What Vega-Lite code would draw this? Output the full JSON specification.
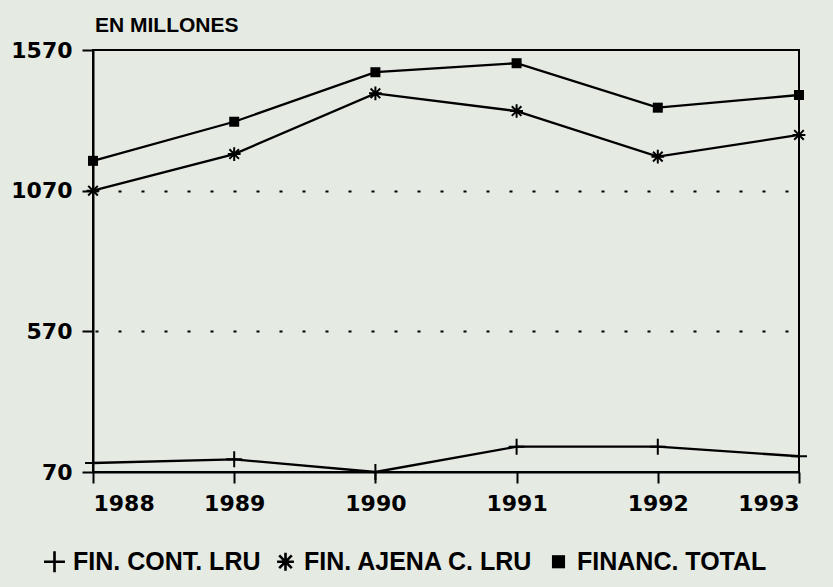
{
  "$schema": "https://vega.github.io/schema/vega-lite/v6.json",
  "width": 706,
  "height": 422,
  "autosize": {"type": "none"},
  "padding": {"left": 93, "top": 50, "right": 34, "bottom": 115},
  "background": "#e5eae3",
  "title": {"text": "EN MILLONES", "anchor": "start", "frame": "group", "font": "Liberation Sans", "fontSize": 21, "fontWeight": "bold", "color": "black", "offset": 3, "dx": 2},
  "config": {
    "view": {"stroke": "black", "strokeWidth": 2},
    "axis": {
      "domainColor": "black", "domainWidth": 2, "tickColor": "black", "tickWidth": 2, "tickSize": 11,
      "labelFont": "DejaVu Sans", "labelFontSize": 22, "labelFontWeight": "bold", "labelColor": "black", "labelPadding": 10
    }
  },
  "data": {"values": [
    {"year": 1988, "series": "FIN. CONT. LRU", "value": 102},
    {"year": 1989, "series": "FIN. CONT. LRU", "value": 115},
    {"year": 1990, "series": "FIN. CONT. LRU", "value": 70},
    {"year": 1991, "series": "FIN. CONT. LRU", "value": 160},
    {"year": 1992, "series": "FIN. CONT. LRU", "value": 160},
    {"year": 1993, "series": "FIN. CONT. LRU", "value": 126},
    {"year": 1988, "series": "FIN. AJENA C. LRU", "value": 1070},
    {"year": 1989, "series": "FIN. AJENA C. LRU", "value": 1200},
    {"year": 1990, "series": "FIN. AJENA C. LRU", "value": 1416},
    {"year": 1991, "series": "FIN. AJENA C. LRU", "value": 1353},
    {"year": 1992, "series": "FIN. AJENA C. LRU", "value": 1191},
    {"year": 1993, "series": "FIN. AJENA C. LRU", "value": 1268},
    {"year": 1988, "series": "FINANC. TOTAL", "value": 1176},
    {"year": 1989, "series": "FINANC. TOTAL", "value": 1315},
    {"year": 1990, "series": "FINANC. TOTAL", "value": 1491},
    {"year": 1991, "series": "FINANC. TOTAL", "value": 1523},
    {"year": 1992, "series": "FINANC. TOTAL", "value": 1365},
    {"year": 1993, "series": "FINANC. TOTAL", "value": 1410}
  ]},
  "encoding": {
    "x": {"field": "year", "type": "quantitative", "scale": {"domain": [1988, 1993], "nice": false, "zero": false},
          "axis": {"values": [1988, 1989, 1990, 1991, 1992, 1993], "format": "d", "title": null, "grid": false}},
    "y": {"field": "value", "type": "quantitative", "scale": {"domain": [70, 1570], "nice": false, "zero": false},
          "axis": {"values": [70, 570, 1070, 1570], "format": "d", "title": null, "grid": true, "gridDash": [3, 20], "gridDashOffset": 21, "gridColor": "black", "gridWidth": 2,
                   "gridOpacity": {"condition": {"test": "datum.value === 70 || datum.value === 1570", "value": 0}, "value": 1}}}
  },
  "layer": [
    {
      "mark": {"type": "line", "color": "black", "strokeWidth": 2.3},
      "encoding": {"detail": {"field": "series"}}
    },
    {
      "mark": {"type": "point", "fill": "black", "strokeWidth": 0, "opacity": 1, "filled": true, "size": 256},
      "encoding": {
        "shape": {"field": "series", "type": "nominal",
          "scale": {"domain": ["FIN. CONT. LRU", "FIN. AJENA C. LRU", "FINANC. TOTAL"],
                    "range": [
                      "M-1,-0.125H-0.125V-1H0.125V-0.125H1V0.125H0.125V1H-0.125V0.125H-1Z",
                      "M-0.8,-0.125H0.8V0.125H-0.8ZM-0.125,-0.85H0.125V0.85H-0.125ZM-0.512,-0.688L0.688,0.512L0.512,0.688L-0.688,-0.512ZM-0.512,0.688L-0.688,0.512L0.512,-0.688L0.688,-0.512Z",
                      "M-0.625,-0.625H0.625V0.625H-0.625Z"]},
          "legend": {
            "orient": "none", "legendX": -51, "legendY": 499, "direction": "horizontal", "title": null,
            "labelFont": "Liberation Sans", "labelFontSize": 25, "labelFontWeight": "bold", "labelColor": "black",
            "labelOffset": 6, "columnPadding": 12, "labelLimit": 0, "symbolSize": 441, "symbolStrokeWidth": 0,
            "symbolFillColor": "black", "symbolOpacity": 1
          }}
      }
    }
  ]
}
